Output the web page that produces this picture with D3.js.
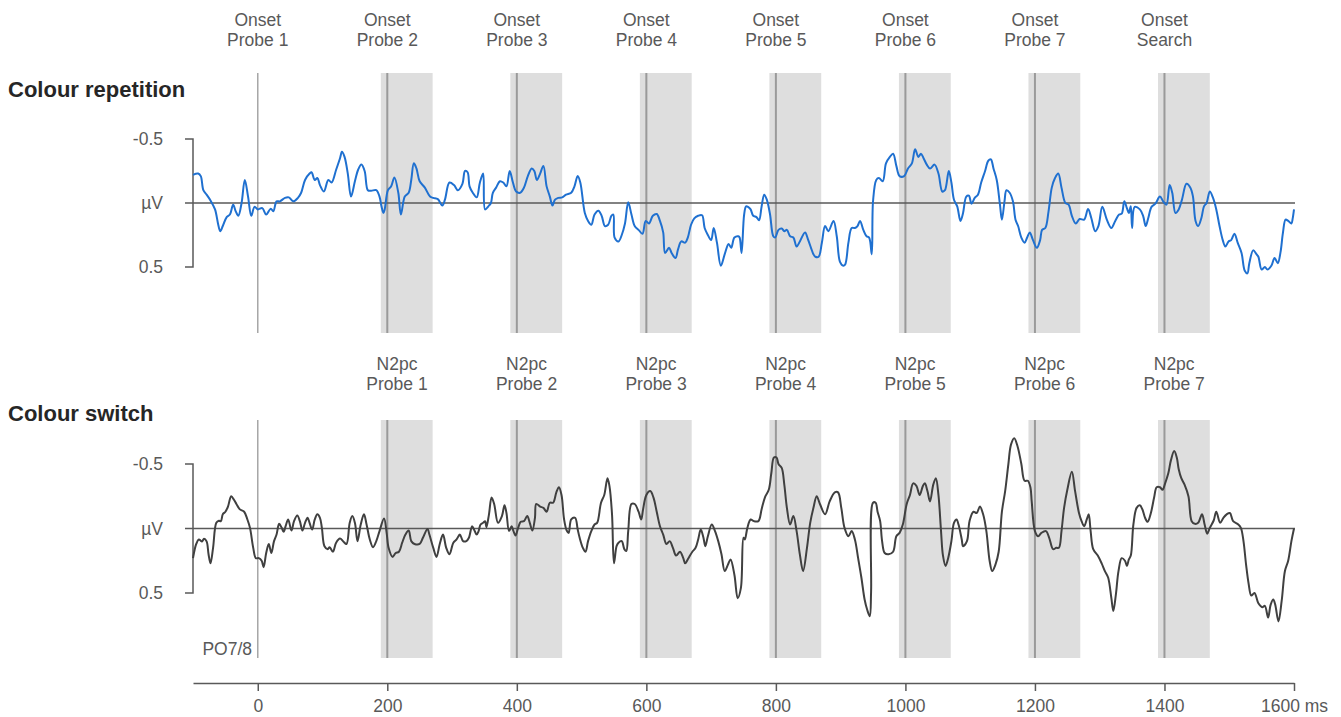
<!DOCTYPE html>
<html>
<head>
<meta charset="utf-8">
<script src="https://cdn.jsdelivr.net/npm/d3@7"></script>
<style>
  body { margin: 0; background: #fff; }
  svg { display: block; font-family: "Liberation Sans", Arial, sans-serif; }
</style>
</head>
<body>
<div id="chart"></div>
<script>
// probe onsets (ms) and labels
const onsetTimes = [0, 200, 400, 600, 800, 1000, 1200, 1400];
const onsetLabels = ["Probe 1", "Probe 2", "Probe 3", "Probe 4", "Probe 5", "Probe 6", "Probe 7", "Search"];
const n2pcTimes = [200, 400, 600, 800, 1000, 1200, 1400];
const n2pcLabels = ["Probe 1", "Probe 2", "Probe 3", "Probe 4", "Probe 5", "Probe 6", "Probe 7"];
const windowStart = -10, windowEnd = 70; // N2pc window relative to each probe
const xTicks = [0, 200, 400, 600, 800, 1000, 1200, 1400, 1600];

// [ms, µV]
const repetition = [[-100,-0.22],[-92,-0.23],[-88,-0.21],[-84,-0.10],[-79,-0.065],[-73,-0.02],[-66,0.05],[-61,0.17],[-58,0.22],[-54,0.18],[-48,0.11],[-43,0.09],[-38,0.013],[-34,0.065],[-30,0.10],[-25,0],[-20,-0.18],[-15,-0.05],[-10,0.10],[-5,0.03],[0,0.05],[7,0.04],[13,0.09],[20,0.044],[24,0.065],[29,-0.013],[34,-0.013],[42,-0.04],[48,-0.044],[55,-0.013],[62,-0.04],[67,-0.08],[73,-0.18],[80,-0.23],[83,-0.24],[88,-0.18],[92,-0.195],[96,-0.14],[102,-0.09],[109,-0.18],[114,-0.16],[121,-0.26],[127,-0.35],[130,-0.40],[134,-0.36],[139,-0.23],[144,-0.05],[150,-0.17],[155,-0.26],[160,-0.30],[165,-0.25],[170,-0.10],[175,-0.096],[183,-0.10],[188,-0.05],[191,0.026],[194,0.078],[196,0.05],[201,-0.10],[206,-0.13],[211,-0.20],[217,-0.08],[221,0.09],[227,-0.05],[233,-0.08],[237,-0.18],[241,-0.31],[245,-0.27],[250,-0.17],[258,-0.12],[266,-0.05],[271,-0.04],[278,-0.03],[285,0.02],[289,-0.026],[296,-0.16],[303,-0.14],[309,-0.10],[316,-0.15],
  [320,-0.25],[324,-0.24],[327,-0.13],[332,-0.08],[338,-0.044],[343,-0.16],[348,-0.23],[351,0.05],[356,0.026],[360,0],[363,-0.08],[368,-0.12],[374,-0.17],[379,-0.16],[384,-0.13],[389,-0.25],[394,-0.16],[399,-0.09],[405,-0.08],[411,-0.12],[417,-0.21],[423,-0.27],[427,-0.25],[431,-0.18],[436,-0.23],[441,-0.29],[446,-0.13],[451,-0.05],[455,0.02],[459,-0.026],[464,-0.04],[470,-0.044],[476,-0.065],[484,-0.08],[489,-0.13],[494,-0.21],[498,-0.16],[505,0.078],[510,0.14],[515,0.17],[520,0.09],[526,0.06],[531,0.10],[536,0.18],[541,0.17],[546,0.10],[549,0.09],[551,0.27],[557,0.30],[562,0.25],[567,0.16],[572,-0.005],[577,0.09],[582,0.18],[588,0.21],[594,0.24],[599,0.14],[604,0.16],[610,0.10],[616,0.086],[621,0.14],[626,0.23],[629,0.39],[635,0.35],[639,0.39],[645,0.43],[649,0.36],[654,0.30],[660,0.31],[664,0.27],[669,0.17],[674,0.12],[680,0.10],[686,0.096],[690,0.195],[695,0.25],[700,0.29],[704,0.195],[709,0.31],[715,0.49],[721,0.40],[727,0.32],[731,0.35],[736,0.27],[742,0.26],[744,0.27],[747,0.39],[751,0.09],[754,0.026],
  [757,0.03],[761,0.05],[765,0.10],[770,0.11],[774,0.135],[778,0.026],[782,-0.065],[786,-0.026],[791,0.09],[796,0.26],[799,0.27],[804,0.21],[809,0.20],[813,0.22],[817,0.21],[822,0.26],[827,0.27],[832,0.34],[837,0.30],[845,0.23],[850,0.29],[858,0.40],[861,0.42],[866,0.42],[871,0.31],[876,0.18],[881,0.22],[889,0.14],[894,0.26],[899,0.46],[904,0.49],[907,0.48],[912,0.31],[917,0.195],[922,0.195],[926,0.18],[930,0.14],[935,0.21],[940,0.26],[944,0.27],[948,0.40],[950,-0.013],[955,-0.18],[959,-0.195],[965,-0.17],[970,-0.31],[976,-0.36],[981,-0.385],[986,-0.29],[991,-0.21],[998,-0.21],[1004,-0.27],[1010,-0.31],[1015,-0.42],[1020,-0.36],[1024,-0.385],[1028,-0.35],[1033,-0.30],[1038,-0.27],[1045,-0.30],[1051,-0.23],[1057,-0.09],[1061,-0.10],[1067,-0.25],[1071,-0.16],[1075,-0.026],[1080,0.026],[1085,0.14],[1089,0.078],[1094,-0.05],[1098,-0.057],[1102,0.005],[1107,-0.04],[1112,-0.065],[1117,-0.16],[1123,-0.25],[1128,-0.33],[1132,-0.34],[1136,-0.27],[1141,-0.18],[1146,0.013],[1149,0.13],[1153,-0.013],[1156,-0.10],[1161,-0.08],[1166,-0.013],[1170,0.13],[1174,0.18],[1179,0.27],[1184,0.31],[1188,0.27],[1192,0.23],
  [1197,0.29],[1203,0.35],[1208,0.29],[1211,0.21],[1216,0.195],[1221,0.065],[1226,-0.12],[1231,-0.195],[1236,-0.23],[1241,-0.12],[1247,0],[1252,0.013],[1257,0.10],[1263,0.16],[1269,0.125],[1276,0.13],[1282,0.047],[1287,0.117],[1293,0.22],[1298,0.18],[1304,0.03],[1311,0.13],[1318,0.195],[1324,0.14],[1330,0.09],[1334,0.083],[1338,-0.013],[1342,0.04],[1345,0.078],[1348,0.026],[1350,0.195],[1354,0.03],[1362,0.05],[1367,0.10],[1371,0.18],[1375,0.117],[1380,0.03],[1386,0.005],[1393,-0.05],[1398,-0.013],[1403,0.013],[1408,-0.14],[1412,-0.08],[1417,0.078],[1422,0.05],[1427,-0.026],[1434,-0.15],[1440,-0.12],[1444,-0.05],[1448,0.14],[1452,0.18],[1457,0.117],[1461,0.026],[1465,0],[1470,-0.09],[1475,-0.04],[1480,0.05],[1485,0.18],[1490,0.29],[1494,0.34],[1499,0.30],[1503,0.29],[1508,0.24],[1513,0.31],[1519,0.39],[1524,0.53],[1528,0.55],[1531,0.47],[1537,0.37],[1542,0.40],[1545,0.42],[1550,0.52],[1555,0.50],[1559,0.52],[1565,0.49],[1570,0.43],[1575,0.47],[1579,0.39],[1583,0.23],[1587,0.13],[1591,0.14],[1596,0.16],[1598,0.12],[1600,0.05]];

const colourSwitch = [[-100,0.23],[-95,0.12],[-91,0.085],[-86,0.10],[-83,0.08],[-79,0.10],[-76,0.20],[-73,0.27],[-69,0.15],[-64,-0.044],[-60,-0.06],[-57,-0.057],[-54,-0.11],[-50,-0.13],[-46,-0.17],[-41,-0.25],[-37,-0.225],[-33,-0.19],[-28,-0.15],[-21,-0.13],[-16,-0.07],[-12,-0.005],[-7,0.15],[-3,0.23],[1.5,0.23],[6,0.25],[9,0.30],[13,0.19],[17,0.12],[21,0.19],[25,0.10],[29,0.047],[33,-0.036],[37,-0.005],[40,0.026],[43,-0.018],[47,-0.07],[52,0.016],[56,-0.057],[61,-0.10],[65,-0.057],[69,0.016],[73,-0.044],[77,-0.083],[80,-0.044],[84,0.008],[88,-0.07],[92,-0.11],[96,-0.083],[99,-0.005],[103,0.137],[108,0.16],[111,0.145],[116,0.18],[121,0.11],[127,0.078],[132,0.10],[137,0.12],[142,-0.044],[146,-0.096],[150,-0.044],[154,0.098],[159,-0.031],[164,-0.11],[168,-0.031],[173,0.085],[178,0.145],[183,0.098],[188,0.02],[195,-0.078],[199,0.034],[202,0.15],[208,0.22],[213,0.19],[218,0.18],[223,0.11],[228,0.047],[233,0.016],[237,0.098],[242,0.12],[250,0.12],[255,0.072],[262,0.003],[265,0.047],[271,0.15],[276,0.22],[281,0.12],[286,0.047],[291,0.15],[296,0.20],[302,0.11],[307,0.085],[312,0.047],[317,0.098],[322,0.098],[326,0.072],[331,-0.018],
  [335,0.02],[338,0.047],[341,0.02],[344,-0.031],[348,-0.044],[351,-0.057],[353,-0.01],[357,-0.11],[361,-0.24],[365,-0.19],[371,-0.044],[377,-0.096],[381,-0.18],[384,-0.12],[388,0.02],[392,-0.018],[394,0.008],[398,0.054],[402,-0.005],[406,-0.052],[411,-0.057],[416,-0.096],[420,-0.044],[424,0.016],[428,-0.083],[430,-0.19],[436,-0.17],[441,-0.16],[446,-0.13],[451,-0.2],[456,-0.2],[461,-0.28],[465,-0.32],[469,-0.26],[473,-0.07],[477,0.016],[480,0.034],[484,-0.07],[490,-0.083],[494,0.008],[497,0.072],[502,0.15],[506,0.18],[510,0.098],[515,0.02],[520,-0.031],[524,-0.044],[530,-0.2],[535,-0.26],[540,-0.39],[543,-0.33],[547,-0.11],[550,0.27],[554,0.137],[557,0.11],[562,0.098],[566,0.16],[569,0.175],[572,0.02],[577,-0.19],[582,-0.19],[588,-0.13],[592,-0.07],[595,-0.15],[600,-0.26],[606,-0.29],[611,-0.24],[616,-0.13],[621,-0.018],[626,0.047],[631,0.12],[636,0.098],[641,0.15],[646,0.21],[652,0.18],[657,0.23],[660,0.27],[665,0.23],[671,0.18],[676,0.15],[680,0.085],[684,0.008],[688,0.067],[691,0.137],[695,0.06],[701,-0.031],[706,0.02],[711,0.098],[716,0.20],[721,0.33],[726,0.28],[730,0.24],[736,0.36],[741,0.54],[746,0.46],[750,0.072],[752,0.085],[756,-0.005],[761,-0.07],[766,-0.057],
  [773,-0.057],[778,-0.15],[783,-0.24],[789,-0.30],[793,-0.43],[797,-0.55],[801,-0.55],[804,-0.50],[809,-0.47],[813,-0.34],[817,-0.16],[822,-0.031],[827,-0.096],[832,0.02],[837,0.20],[842,0.33],[848,0.15],[853,-0.044],[858,-0.16],[863,-0.25],[868,-0.19],[876,-0.11],[883,-0.21],[891,-0.28],[896,-0.28],[901,-0.16],[906,-0.005],[912,0.06],[917,0.02],[922,0.085],[927,0.23],[932,0.38],[937,0.55],[941,0.63],[945,0.68],[947,0.49],[950,-0.2],[954,-0.2],[957,-0.13],[961,-0.057],[964,0.098],[968,0.19],[974,0.20],[981,0.18],[986,0.06],[991,0.034],[996,-0.031],[1002,-0.19],[1007,-0.26],[1012,-0.35],[1017,-0.33],[1022,-0.26],[1027,-0.33],[1030,-0.35],[1034,-0.29],[1038,-0.21],[1043,-0.34],[1047,-0.39],[1051,-0.26],[1055,0.02],[1058,0.21],[1062,0.29],[1066,0.23],[1071,0.098],[1075,-0.044],[1079,-0.07],[1082,-0.031],[1087,0.085],[1089,0.137],[1095,0.098],[1099,-0.057],[1105,-0.13],[1110,-0.12],[1115,-0.17],[1120,-0.11],[1125,0.02],[1130,0.25],[1134,0.33],[1139,0.28],[1144,0.18],[1149,-0.13],[1154,-0.29],[1159,-0.5],[1163,-0.65],[1168,-0.70],[1173,-0.64],[1179,-0.5],[1184,-0.37],[1189,-0.37],[1193,-0.32],
  [1195,-0.21],[1200,0.02],[1205,0.06],[1210,0.034],[1217,0.02],[1222,0.072],[1228,0.16],[1233,0.15],[1237,0.15],[1241,0.02],[1245,-0.16],[1250,-0.30],[1257,-0.44],[1262,-0.29],[1268,-0.12],[1272,-0.057],[1276,-0.018],[1280,-0.07],[1283,-0.11],[1286,0.02],[1290,0.16],[1297,0.21],[1303,0.27],[1308,0.33],[1313,0.38],[1318,0.54],[1321,0.64],[1325,0.51],[1329,0.33],[1334,0.23],[1339,0.25],[1342,0.29],[1345,0.24],[1348,0.21],[1352,-0.031],[1357,-0.16],[1362,-0.18],[1366,-0.147],[1370,-0.083],[1374,-0.052],[1379,-0.12],[1384,-0.24],[1388,-0.32],[1393,-0.32],[1397,-0.30],[1401,-0.35],[1406,-0.43],[1410,-0.53],[1415,-0.60],[1419,-0.55],[1422,-0.46],[1426,-0.39],[1431,-0.34],[1437,-0.25],[1442,-0.057],[1447,-0.036],[1452,-0.044],[1458,-0.11],[1462,-0.031],[1466,0.04],[1470,-0.005],[1476,-0.062],[1480,-0.13],[1486,-0.044],[1491,-0.083],[1496,-0.11],[1501,-0.12],[1506,-0.057],[1514,-0.031],[1518,-0.005],[1522,0.098],[1526,0.28],[1530,0.43],[1534,0.52],[1539,0.50],[1545,0.58],[1551,0.61],[1555,0.60],[1560,0.69],[1564,0.59],[1568,0.55],[1571,0.59],[1576,0.72],[1581,0.56],[1586,0.33],[1591,0.25],[1596,0.098],[1600,0]];

const width = 1341, height = 717;
const labelGrey = "#595959";
const axisGrey = "#595959";
const labelSize = "17.5px";

const svg = d3.select("#chart").append("svg")
    .attr("width", width)
    .attr("height", height);

const x = d3.scaleLinear().domain([-100, 1600]).range([193, 1294]);

const panels = [
    { title: "Colour repetition", titleY: 97, data: repetition, colour: "#1f70d0",
      y: d3.scaleLinear().domain([-0.5, 0.5]).range([139, 267]),
      top: 73, bottom: 333, bands: onsetTimes.slice(1) },
    { title: "Colour switch", titleY: 421, data: colourSwitch, colour: "#404040",
      y: d3.scaleLinear().domain([-0.5, 0.5]).range([464, 593]),
      top: 420, bottom: 658, bands: n2pcTimes }
];

// onset labels on top
onsetTimes.forEach((t, i) => {
    const tx = svg.append("text")
        .attr("text-anchor", "middle")
        .style("font-size", labelSize)
        .style("fill", labelGrey);
    tx.append("tspan").attr("x", x(t)).attr("y", 26).text("Onset");
    tx.append("tspan").attr("x", x(t)).attr("y", 46).text(onsetLabels[i]);
});

// N2pc labels between panels
n2pcTimes.forEach((t, i) => {
    const tx = svg.append("text")
        .attr("text-anchor", "middle")
        .style("font-size", labelSize)
        .style("fill", labelGrey);
    tx.append("tspan").attr("x", x(t + 15)).attr("y", 370).text("N2pc");
    tx.append("tspan").attr("x", x(t + 15)).attr("y", 390).text(n2pcLabels[i]);
});

panels.forEach(p => {
    const g = svg.append("g");

    g.append("text")
        .attr("x", 8)
        .attr("y", p.titleY)
        .style("font-size", "22px")
        .style("font-weight", "bold")
        .style("fill", "#262626")
        .text(p.title);

    // grey N2pc windows
    g.selectAll(".band")
        .data(p.bands)
        .enter().append("rect")
        .attr("class", "band")
        .attr("x", d => x(d + windowStart))
        .attr("y", p.top)
        .attr("width", d => x(d + windowEnd) - x(d + windowStart))
        .attr("height", p.bottom - p.top)
        .style("fill", "#dedede");

    g.selectAll(".onset")
        .data(p.bands)
        .enter().append("line")
        .attr("class", "onset")
        .attr("x1", d => x(d)).attr("x2", d => x(d))
        .attr("y1", p.top).attr("y2", p.bottom)
        .style("stroke", "#9a9a9a")
        .style("stroke-width", 2);

    // onset of probe 1
    g.append("line")
        .attr("x1", x(0)).attr("x2", x(0))
        .attr("y1", p.top).attr("y2", p.bottom)
        .style("stroke", "#a6a6a6")
        .style("stroke-width", 1.5);

    // zero line
    g.append("line")
        .attr("x1", 185).attr("x2", x(1600) + 1)
        .attr("y1", p.y(0)).attr("y2", p.y(0))
        .style("stroke", axisGrey)
        .style("stroke-width", 1.5);

    // bracket y axis
    g.append("path")
        .attr("d", `M185,${p.y(-0.5)}H${x(-100)}V${p.y(0.5)}H185`)
        .style("fill", "none")
        .style("stroke", axisGrey)
        .style("stroke-width", 1.5);

    [[-0.5, "-0.5"], [0, "µV"], [0.5, "0.5"]].forEach(([v, s]) => {
        g.append("text")
            .attr("x", 163)
            .attr("y", p.y(v))
            .attr("dy", "0.35em")
            .attr("text-anchor", "end")
            .style("font-size", labelSize)
            .style("fill", labelGrey)
            .text(s);
    });

    const line = d3.line()
        .x(d => x(d[0]))
        .y(d => p.y(d[1]))
        .curve(d3.curveCatmullRom.alpha(0.5));

    g.append("path")
        .datum(p.data)
        .attr("d", line)
        .style("fill", "none")
        .style("stroke", p.colour)
        .style("stroke-width", 2)
        .style("stroke-linejoin", "round");
});

svg.append("text")
    .attr("x", 252)
    .attr("y", 655)
    .attr("text-anchor", "end")
    .style("font-size", labelSize)
    .style("fill", labelGrey)
    .text("PO7/8");

// time axis
const xAxis = d3.axisBottom(x)
    .tickValues(xTicks)
    .tickSize(8)
    .tickSizeOuter(0)
    .tickPadding(9)
    .tickFormat(d => d === 1600 ? "1600 ms" : d);

const axisG = svg.append("g")
    .attr("transform", "translate(0,683)")
    .call(xAxis);
axisG.select(".domain").style("stroke", axisGrey).style("stroke-width", 1.5);
axisG.selectAll(".tick line").style("stroke", axisGrey).style("stroke-width", 1.5);
axisG.selectAll(".tick text")
    .style("font-size", labelSize)
    .style("font-family", "Liberation Sans, Arial, sans-serif")
    .style("fill", labelGrey);
</script>
</body>
</html>
